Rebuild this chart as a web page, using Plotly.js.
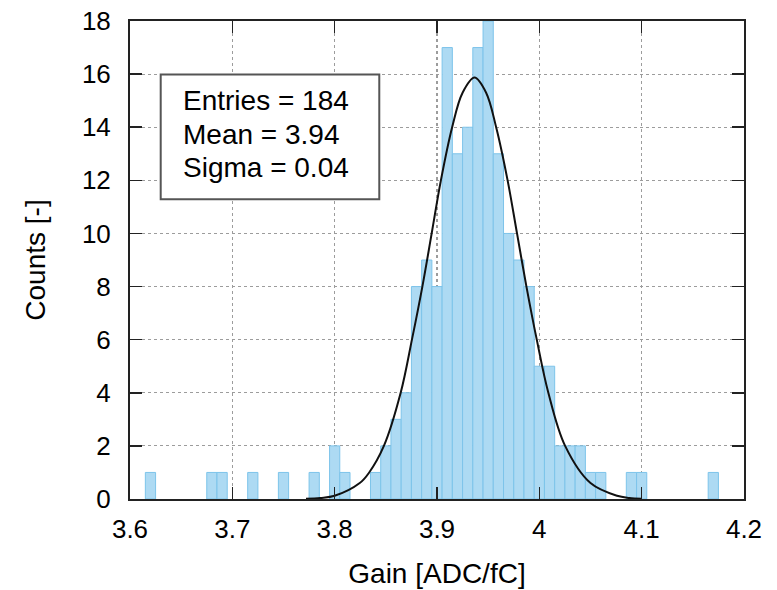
<!DOCTYPE html>
<html>
<head>
<meta charset="utf-8">
<script src="https://cdn.plot.ly/plotly-3.0.1.min.js"></script>
<style>
  html, body { margin: 0; padding: 0; background: #ffffff; }
  #chart { width: 777px; height: 590px; }
</style>
</head>
<body>
<div id="chart"></div>
<script>
// Histogram bins (centre of each 0.01-wide bin) and counts
const binCenters = [3.62, 3.68, 3.69, 3.72, 3.75, 3.78, 3.80, 3.81,
  3.84, 3.85, 3.86, 3.87, 3.88, 3.89, 3.90, 3.91, 3.92, 3.93, 3.94, 3.95,
  3.96, 3.97, 3.98, 3.99, 4.00, 4.01, 4.02, 4.03, 4.04, 4.05, 4.06,
  4.09, 4.10, 4.17];
const counts = [1, 1, 1, 1, 1, 1, 2, 1,
  1, 2, 3, 4, 8, 9, 8, 17, 13, 14, 17, 18,
  13, 10, 9, 8, 5, 5, 2, 2, 2, 1, 1,
  1, 1, 1];
const binWidth = 0.01;

// Fitted curve, points
const fitX = [3.772, 3.786, 3.800, 3.8245, 3.8334, 3.8481, 3.8645, 3.8755, 3.8857,
  3.8948, 3.9038, 3.9148, 3.925, 3.9367, 3.948, 3.9578, 3.9690, 3.9782,
  3.9874, 3.9975, 4.0088, 4.0252, 4.050, 4.076, 4.088, 4.100];
const fitY = [0.01, 0.04, 0.12, 0.6, 0.98, 2, 4, 6, 8,
  10, 12, 14, 15.3, 15.87, 15.3, 14, 12, 10,
  8, 6, 4, 2, 0.6, 0.12, 0.04, 0.01];

// Axis ticks
const xTicks = [3.6, 3.7, 3.8, 3.9, 4.0, 4.1, 4.2];
const xTickText = ["3.6", "3.7", "3.8", "3.9", "4", "4.1", "4.2"];
const yTicks = [0, 2, 4, 6, 8, 10, 12, 14, 16, 18];

// Statistics box lines
const statsLines = ["Entries = 184", "Mean = 3.94", "Sigma = 0.04"];

const FONT = "Liberation Sans, Arial, Helvetica, sans-serif";

const traces = [
  {
    type: "bar",
    x: binCenters,
    y: counts,
    width: binWidth,
    marker: { color: "#ADDAF3", line: { color: "#7DC4EA", width: 1 } },
    hoverinfo: "x+y",
    showlegend: false
  },
  {
    type: "scatter",
    mode: "lines",
    x: fitX,
    y: fitY,
    line: { color: "#111111", width: 2, shape: "spline", smoothing: 1 },
    showlegend: false
  }
];

const statsY = [0.834, 0.7635, 0.6935];
const annotations = statsLines.map((t, i) => ({
  xref: "paper", yref: "paper",
  x: 0.083, y: statsY[i],
  xanchor: "left", yanchor: "middle",
  text: t, showarrow: false,
  font: { family: FONT, size: 28, color: "#000000" }
}));

const axisCommon = {
  showline: true,
  linecolor: "#222222",
  linewidth: 2,
  mirror: "ticks",
  ticks: "inside",
  ticklen: 12,
  tickwidth: 1.5,
  tickcolor: "#222222",
  showgrid: true,
  gridcolor: "#9c9c9c",
  gridwidth: 1.2,
  griddash: "dot",
  zeroline: false,
  tickfont: { family: FONT, size: 26, color: "#000000" }
};

const layout = {
  width: 777,
  height: 590,
  margin: { l: 130, r: 33, t: 21, b: 91 },
  paper_bgcolor: "#ffffff",
  plot_bgcolor: "#ffffff",
  bargap: 0,
  xaxis: Object.assign({}, axisCommon, {
    range: [3.6, 4.2],
    tickmode: "array",
    tickvals: xTicks,
    ticktext: xTickText,
    ticklabelstandoff: 6,
    title: { text: "Gain [ADC/fC]", font: { family: FONT, size: 28, color: "#000000" }, standoff: 20 }
  }),
  yaxis: Object.assign({}, axisCommon, {
    range: [0, 18],
    tickmode: "array",
    tickvals: yTicks,
    ticklabelstandoff: 12,
    title: { text: "Counts [-]", font: { family: FONT, size: 28, color: "#000000" }, standoff: 28 }
  }),
  shapes: [
    {
      type: "rect", xref: "paper", yref: "paper",
      x0: 0.050, x1: 0.406, y0: 0.627, y1: 0.888,
      line: { color: "#555555", width: 2 },
      fillcolor: "#ffffff",
      layer: "above"
    }
  ],
  annotations: annotations
};

Plotly.newPlot("chart", traces, layout, { displayModeBar: false, staticPlot: true });
</script>
</body>
</html>
